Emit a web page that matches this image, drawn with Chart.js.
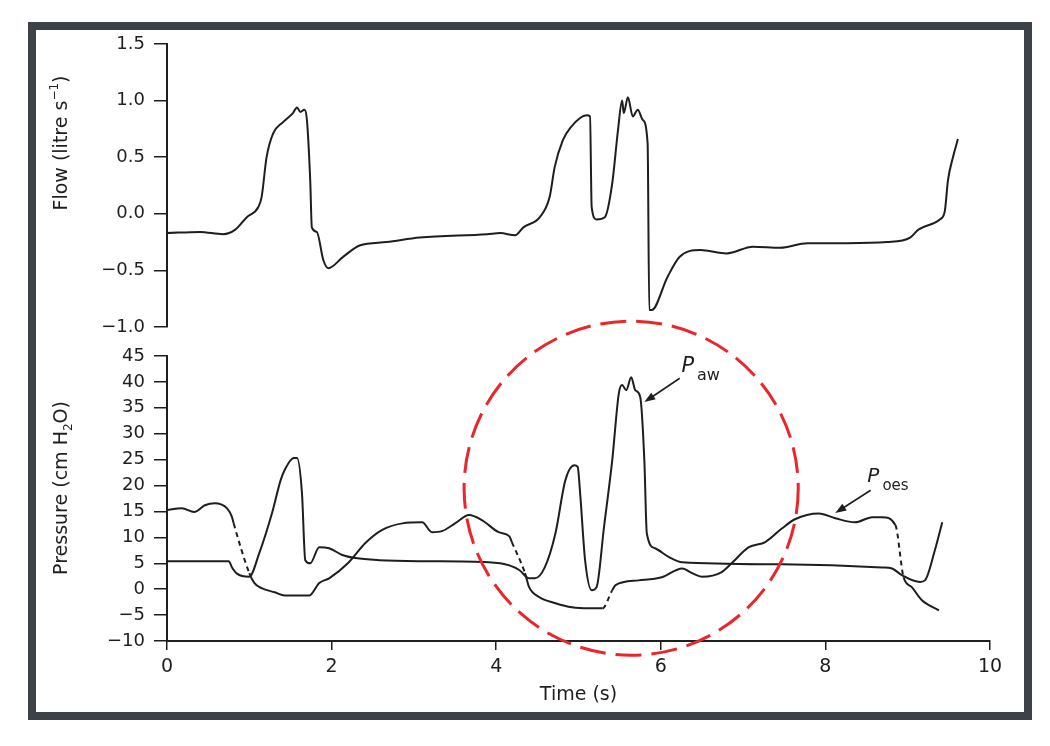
<!DOCTYPE html>
<html>
<head>
<meta charset="utf-8">
<script src="https://cdn.jsdelivr.net/npm/chart.js@4/dist/chart.umd.min.js"></script>
<style>
html,body{margin:0;padding:0;background:#fff;}
#wrap{position:relative;width:1050px;height:746px;overflow:hidden;background:#fff;}
#frame{position:absolute;left:28px;top:22px;width:1004px;height:698px;box-sizing:border-box;border:8px solid #3d4248;}
canvas{position:absolute;left:0;top:0;}
</style>
</head>
<body>
<div id="wrap">
  <div id="frame"></div>
  <canvas id="flowChart" width="1050" height="746"></canvas>
  <canvas id="pressChart" width="1050" height="746"></canvas>
</div>
<script>
// ---------- data ----------
const timeTicks = [0, 2, 4, 6, 8, 10];
const flowTicks = [-1.0, -0.5, 0.0, 0.5, 1.0, 1.5];
const pressureTicks = [-10, -5, 0, 5, 10, 15, 20, 25, 30, 35, 40, 45];

const flowTime = [0, 0.4, 0.68, 0.83, 0.97, 1.11, 1.15, 1.21, 1.29, 1.41, 1.53, 1.58, 1.62, 1.67, 1.70,
  1.74, 1.76, 1.82, 1.90, 1.96, 2.14, 2.34, 2.67, 3.07, 3.89, 4.05, 4.23, 4.33, 4.53, 4.65,
  4.71, 4.81, 4.90, 5.10, 5.14, 5.16, 5.22, 5.32, 5.41, 5.48, 5.53, 5.55, 5.60, 5.66, 5.72,
  5.78, 5.84, 5.86, 5.89, 6.08, 6.23, 6.48, 6.80, 7.12, 7.45, 7.78, 8.26, 8.75, 9.03, 9.13,
  9.39, 9.45, 9.49, 9.55, 9.61];
const flowValues = [-0.17, -0.16, -0.18, -0.14, -0.03, 0.06, 0.15, 0.50, 0.71, 0.81, 0.89, 0.94, 0.90, 0.92, 0.83,
  0.30, -0.12, -0.16, -0.41, -0.48, -0.38, -0.28, -0.25, -0.21, -0.18, -0.17, -0.19, -0.12, -0.03, 0.15,
  0.41, 0.65, 0.76, 0.87, 0.86, 0.06, -0.05, -0.03, 0.27, 0.74, 1.00, 0.89, 1.03, 0.86, 0.92,
  0.83, 0.62, -0.85, -0.85, -0.56, -0.38, -0.32, -0.35, -0.29, -0.30, -0.26, -0.26, -0.25, -0.21, -0.14,
  -0.05, 0.02, 0.30, 0.50, 0.66];

const pawTime = [0, 0.75, 0.79, 0.85, 1.0, 1.12, 1.28, 1.38, 1.43, 1.54, 1.58, 1.64, 1.68, 1.74, 1.85,
  1.97, 2.13, 2.29, 2.58, 3.10, 3.91, 4.16, 4.28, 4.40, 4.47, 4.59, 4.72, 4.84, 4.95, 4.99,
  5.02, 5.08, 5.16, 5.22, 5.31, 5.41, 5.49, 5.53, 5.58, 5.64, 5.69, 5.75, 5.80, 5.83, 5.93,
  6.10, 6.26, 7.47, 8.69, 8.81, 8.93, 9.15, 9.21, 9.33, 9.42];
const pawValues = [5.4, 5.4, 4.2, 3.0, 2.4, 6.9, 14.9, 21.0, 23.0, 25.3, 25.3, 18.5, 5.6, 5.0, 8.1,
  7.9, 6.6, 6.0, 5.6, 5.4, 5.2, 4.6, 3.7, 2.1, 2.1, 4.2, 10.8, 21.0, 23.9, 23.6,
  18.5, 5.6, -0.2, 0.4, 12.0, 24.9, 37.8, 39.4, 38.4, 40.9, 38.4, 37.1, 24.9, 10.8, 7.9,
  6.2, 5.2, 4.8, 4.2, 4.0, 2.7, 1.4, 1.7, 7.5, 12.9];

const poesTime = [0, 0.18, 0.33, 0.46, 0.58, 0.73, 0.79, 0.81, 1.0, 1.06, 1.15, 1.31, 1.43, 1.73, 1.85,
  1.97, 2.21, 2.41, 2.61, 2.86, 3.10, 3.22, 3.34, 3.50, 3.67, 3.83, 4.03, 4.16, 4.19, 4.35,
  4.40, 4.52, 4.72, 4.92, 5.13, 5.29, 5.41, 5.45, 5.73, 6.01, 6.26, 6.38, 6.50, 6.74, 6.86,
  7.07, 7.27, 7.47, 7.63, 7.92, 8.12, 8.36, 8.57, 8.69, 8.85, 8.95, 9.05, 9.17, 9.38];
const poesValues = [15.3, 15.6, 14.9, 16.2, 16.6, 15.6, 13.9, 12.7, 3.1, 1.2, 0.2, -0.6, -1.2, -1.2, 1.2,
  2.1, 5.2, 8.9, 11.4, 12.7, 12.9, 11.0, 11.2, 12.7, 14.3, 13.3, 11.0, 10.2, 9.1, 3.1,
  0.4, -1.5, -2.7, -3.5, -3.7, -3.7, -0.2, 0.8, 1.7, 2.3, 4.0, 3.1, 2.4, 3.3, 5.0,
  8.1, 9.1, 11.7, 13.5, 14.6, 13.7, 12.9, 13.9, 13.9, 12.4, 2.3, 0.4, -2.1, -4.1];

// time spans where the oesophageal trace is drawn dotted in the figure
const poesDashedSpans = [[0.81, 1.0], [4.19, 4.35], [5.29, 5.41], [8.85, 8.95]];

// ---------- styling / layout ----------
const FONT = "'DejaVu Sans', 'Liberation Sans', Arial, sans-serif";
const INK = '#1e1e1e';
const PLOT_LEFT = 167, PLOT_RIGHT = 990;
const W = 1050, H = 746;
const minusFix = s => String(s).replace('-', '\u2212');
const pts = (xs, ys) => xs.map((x, i) => ({ x: x, y: ys[i] }));

function drawRich(ctx, parts, cx, cy, rot) {
  ctx.save();
  ctx.translate(cx, cy);
  ctx.rotate(rot);
  ctx.fillStyle = INK;
  ctx.textBaseline = 'alphabetic';
  ctx.textAlign = 'left';
  let total = 0;
  parts.forEach(p => { ctx.font = (p.style || '') + ' ' + p.size + 'px ' + FONT; p.w = ctx.measureText(p.t).width; total += p.w; });
  let x = -total / 2;
  parts.forEach(p => { ctx.font = (p.style || '') + ' ' + p.size + 'px ' + FONT; ctx.fillText(p.t, x, 7 + (p.dy || 0)); x += p.w; });
  ctx.restore();
}

function yAxisCommon(ticksArr, fmt) {
  return {
    type: 'linear',
    position: 'left',
    afterBuildTicks: s => { s.ticks = ticksArr.map(v => ({ value: v })); },
    afterFit: s => { s.width = PLOT_LEFT; },
    ticks: { callback: v => fmt(v), font: { family: FONT, size: 18 }, color: INK, padding: 9, autoSkip: false },
    grid: { drawOnChartArea: false, tickLength: 13, color: INK, lineWidth: 1.5 },
    border: { display: true, color: INK, width: 2 }
  };
}

// ---------- top chart: flow ----------
const flowTitlePlugin = {
  id: 'flowTitle',
  afterDraw(chart) {
    const ctx = chart.ctx;
    drawRich(ctx, [
      { t: 'Flow (litre s', size: 19 },
      { t: '\u22121', size: 12, dy: -9 },
      { t: ')', size: 19 }
    ], 60, chart.chartArea.top + 99, -Math.PI / 2);
  }
};

const flowYAxis = yAxisCommon(flowTicks, v => minusFix(v.toFixed(1)));
flowYAxis.min = -1.0; flowYAxis.max = 1.5;

new Chart(document.getElementById('flowChart'), {
  type: 'line',
  data: {
    datasets: [{
      label: 'Flow',
      data: pts(flowTime, flowValues),
      borderColor: INK, borderWidth: 2, pointRadius: 0,
      cubicInterpolationMode: 'monotone', fill: false
    }]
  },
  options: {
    responsive: false, animation: false,
    layout: { padding: { left: 0, right: W - PLOT_RIGHT, top: 44, bottom: H - 327 } },
    plugins: { legend: { display: false }, tooltip: { enabled: false } },
    scales: {
      x: { type: 'linear', min: 0, max: 10, display: false },
      y: flowYAxis
    }
  },
  plugins: [flowTitlePlugin]
});

// ---------- bottom chart: pressures ----------
const highlightCircle = { t: 5.64, p: 19.5, radiusT: 2.03 };
const notes = [
  { sub: 'aw', label: [6.25, 41.9], from: [6.23, 40.7], to: [5.80, 36.1], size: 21, subSize: 16 },
  { sub: 'oes', label: [8.51, 20.7], from: [8.55, 19.1], to: [8.12, 14.7], size: 20, subSize: 15 }
];

const pressDecor = {
  id: 'pressDecor',
  afterDraw(chart) {
    const ctx = chart.ctx, xs = chart.scales.x, ys = chart.scales.y;
    // axis title
    drawRich(ctx, [
      { t: 'Pressure (cm H', size: 19 },
      { t: '2', size: 12, dy: 5 },
      { t: 'O)', size: 19 }
    ], 60, 488, -Math.PI / 2);
    // labels + arrows
    notes.forEach(n => {
      const lx = xs.getPixelForValue(n.label[0]), ly = ys.getPixelForValue(n.label[1]);
      ctx.save();
      ctx.fillStyle = INK;
      ctx.textAlign = 'left'; ctx.textBaseline = 'alphabetic';
      ctx.font = 'oblique ' + n.size + 'px ' + FONT;
      ctx.fillText('P', lx, ly);
      const pw = ctx.measureText('P').width;
      ctx.font = n.subSize + 'px ' + FONT;
      ctx.fillText(n.sub, lx + pw + 3, ly + 8);
      const x1 = xs.getPixelForValue(n.from[0]), y1 = ys.getPixelForValue(n.from[1]);
      const x2 = xs.getPixelForValue(n.to[0]), y2 = ys.getPixelForValue(n.to[1]);
      const a = Math.atan2(y2 - y1, x2 - x1);
      ctx.strokeStyle = INK; ctx.lineWidth = 1.6;
      ctx.beginPath(); ctx.moveTo(x1, y1); ctx.lineTo(x2 - 6 * Math.cos(a), y2 - 6 * Math.sin(a)); ctx.stroke();
      ctx.beginPath();
      ctx.moveTo(x2, y2);
      ctx.lineTo(x2 - 11 * Math.cos(a) + 4 * Math.sin(a), y2 - 11 * Math.sin(a) - 4 * Math.cos(a));
      ctx.lineTo(x2 - 11 * Math.cos(a) - 4 * Math.sin(a), y2 - 11 * Math.sin(a) + 4 * Math.cos(a));
      ctx.closePath(); ctx.fill();
      ctx.restore();
    });
    // red dashed circle
    const cx = xs.getPixelForValue(highlightCircle.t), cy = ys.getPixelForValue(highlightCircle.p);
    const r = xs.getPixelForValue(highlightCircle.t + highlightCircle.radiusT) - cx;
    ctx.save();
    ctx.strokeStyle = '#e8262c'; ctx.lineWidth = 3; ctx.setLineDash([26, 10]);
    ctx.beginPath(); ctx.arc(cx, cy, r, 0, Math.PI * 2); ctx.stroke();
    ctx.restore();
  }
};

const inSpan = (a, b) => poesDashedSpans.some(s => a >= s[0] - 1e-9 && b <= s[1] + 1e-9);
const pressYAxis = yAxisCommon(pressureTicks, v => minusFix(v));
pressYAxis.min = -10; pressYAxis.max = 45;

const X_AXIS_H = 75;
new Chart(document.getElementById('pressChart'), {
  type: 'line',
  data: {
    datasets: [
      {
        label: 'Paw',
        data: pts(pawTime, pawValues),
        borderColor: INK, borderWidth: 2, pointRadius: 0,
        cubicInterpolationMode: 'monotone', fill: false
      },
      {
        label: 'Poes',
        data: pts(poesTime, poesValues),
        borderColor: INK, borderWidth: 2, pointRadius: 0,
        cubicInterpolationMode: 'monotone', fill: false,
        segment: { borderDash: c => inSpan(c.p0.parsed.x, c.p1.parsed.x) ? [5, 4] : undefined }
      }
    ]
  },
  options: {
    responsive: false, animation: false,
    layout: { padding: { left: 0, right: W - PLOT_RIGHT, top: 356, bottom: H - 641 - X_AXIS_H } },
    plugins: { legend: { display: false }, tooltip: { enabled: false } },
    scales: {
      x: {
        type: 'linear', min: 0, max: 10, position: 'bottom',
        afterBuildTicks: s => { s.ticks = timeTicks.map(v => ({ value: v })); },
        afterFit: s => { s.height = X_AXIS_H; },
        ticks: { font: { family: FONT, size: 19 }, color: INK, padding: 6, maxRotation: 0, autoSkip: false },
        grid: { drawOnChartArea: false, tickLength: 9, color: INK, lineWidth: 1.5 },
        border: { display: true, color: INK, width: 2 },
        title: { display: true, text: 'Time (s)', font: { family: FONT, size: 19 }, color: INK, padding: { top: 0, bottom: 10 } }
      },
      y: pressYAxis
    }
  },
  plugins: [pressDecor]
});
</script>
</body>
</html>
